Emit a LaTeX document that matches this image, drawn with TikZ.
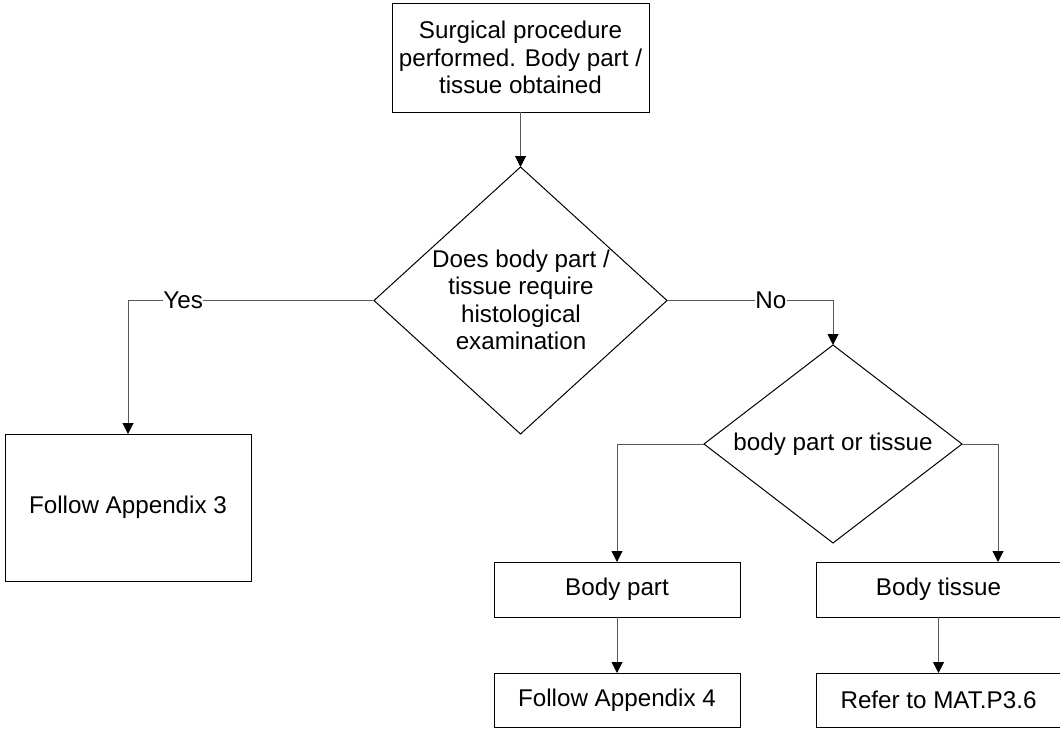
\documentclass[tikz,border=0pt]{standalone}
\usepackage{fontspec}
\setmainfont{Liberation Sans}
\usetikzlibrary{shapes.geometric,arrows.meta}
\begin{document}
\begin{tikzpicture}[x=1pt,y=-1pt,
  every node/.style={font=\fontsize{24.2}{27.5}\selectfont},
  box/.style={draw=black,line width=1pt,inner sep=0pt,outer sep=0pt,align=center},
  dia/.style={draw=black,line width=1pt,diamond,inner sep=0pt,outer sep=0pt},
  conn/.style={draw=black!65,line width=1pt,-{Triangle[width=11pt,length=11pt,color=black]}},
  lbl/.style={fill=white,inner sep=0.5pt}]
\clip (0,0) rectangle (1060,731);
\node[box,minimum width=257,minimum height=109] (top) at (520.5,57.5) {Surgical procedure\\performed. Body part /\\tissue obtained};
\node[dia,minimum width=293,minimum height=267] (d1) at (520.5,300.5) {};
\node[align=center] (d1t) at (521,300) {Does body part /\\tissue require\\histological\\examination};
\node[dia,minimum width=258,minimum height=198] (d2) at (833,444) {};
\node (d2t) at (833,444) {body part or tissue};
\node[box,minimum width=246,minimum height=147] (fa3) at (128,507.5) {Follow Appendix 3};
\node[box,minimum width=246,minimum height=55] (bp) at (617,589.5) {Body part};
\node[box,minimum width=246,minimum height=54] (fa4) at (617,700) {Follow Appendix 4};
\node[box,minimum width=245,minimum height=55] (bt) at (938.5,589.5) {Body tissue};
\node[box,minimum width=245,minimum height=54] (ref) at (938.5,700) {Refer to MAT.P3.6};
\coordinate (btin) at (998,562);
\draw[conn] (top.south) -- (d1.north);
\draw[conn] (d1.west) -| node[lbl,pos=0.388]{Yes} (fa3.north);
\draw[conn] (d1.east) -| node[lbl,pos=0.313]{No} (d2.north);
\draw[conn] (d2.west) -| (bp.north);
\draw[conn] (d2.east) -| (btin);
\draw[conn] (bp.south) -- (fa4.north);
\draw[conn] (bt.south) -- (ref.north);
\end{tikzpicture}
\end{document}
